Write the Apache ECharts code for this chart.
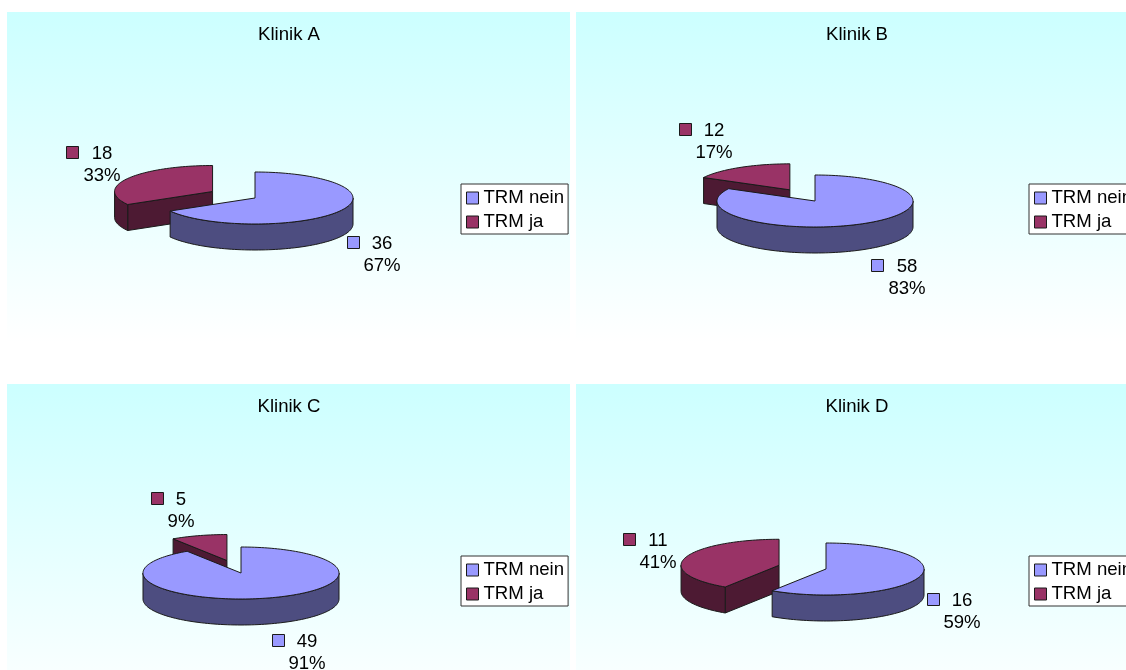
<!DOCTYPE html>
<html>
<head>
<meta charset="utf-8">
<style>html,body{margin:0;padding:0;background:#fff;overflow:hidden}#chart{width:1126px;height:670px}</style>
<script src="https://cdn.jsdelivr.net/npm/echarts@6/dist/echarts.min.js"></script>
</head>
<body>
<div id="chart"></div>
<script>
// Patient counts per clinic
const clinics = ['Klinik A', 'Klinik B', 'Klinik C', 'Klinik D'];
const categories = ['TRM nein', 'TRM ja'];
const neinValues = [36, 58, 49, 16];
const jaValues = [18, 12, 5, 11];

const FONT = '"Liberation Sans", Arial, sans-serif';
const FONT_SIZE = 18.6;
const RX = 98, RY = 26, DEPTH = 26, EXPLODE = 0.5;

// Panel frames, pie centres and data label anchors
const panels = [
  { box: [7, 12, 563, 372], pie: [255, 198], legend: [461, 184], title: [289, 35],
    nein: { mark: 347, mid: 382, y: 243 }, ja: { mark: 66, mid: 102, y: 153 } },
  { box: [576, 12, 550, 372], pie: [815, 201], legend: [1029, 184], title: [857, 35],
    nein: { mark: 871, mid: 907, y: 266 }, ja: { mark: 679, mid: 714, y: 130 } },
  { box: [7, 384, 563, 372], pie: [241, 573], legend: [461, 556], title: [289, 407],
    nein: { mark: 272, mid: 307, y: 641 }, ja: { mark: 151, mid: 181, y: 499 } },
  { box: [576, 384, 550, 372], pie: [826, 569], legend: [1029, 556], title: [857, 407],
    nein: { mark: 927, mid: 962, y: 600 }, ja: { mark: 623, mid: 658, y: 540 } }
];

const colors = {
  'TRM nein': { top: '#9999FF', side: '#4D4D80' },
  'TRM ja': { top: '#993366', side: '#4D1A33' }
};
const edge = { stroke: '#1a1a1a', lineWidth: 1 };

const rad = d => d * Math.PI / 180;
// Clockwise angle from twelve o'clock onto the flattened ellipse
const rim = (c, deg, drop) => [c[0] + RX * Math.sin(rad(deg)), c[1] - RY * Math.cos(rad(deg)) + (drop || 0)];

function arcPoints(c, from, to, drop) {
  const pts = [];
  const n = Math.max(2, Math.ceil(Math.abs(to - from) / 2));
  for (let i = 0; i <= n; i++) pts.push(rim(c, from + (to - from) * i / n, drop));
  return pts;
}

function poly(points, fill) {
  return { type: 'polygon', shape: { points }, style: Object.assign({ fill }, edge) };
}

function sliceShapes(c, from, to, palette) {
  const out = [];
  // Front-facing cut side: only a slice starting left of or behind the centre shows one
  if (from > 90) {
    const o = rim(c, from);
    out.push(poly([c, o, [o[0], o[1] + DEPTH], [c[0], c[1] + DEPTH]], palette.side));
  }
  // Outer wall over the front half of the ellipse
  const wa = Math.max(from, 90), wb = Math.min(to, 270);
  if (wb > wa) {
    out.push(poly(arcPoints(c, wa, wb).concat(arcPoints(c, wb, wa, DEPTH)), palette.side));
  }
  out.push(poly([c].concat(arcPoints(c, from, to)), palette.top));
  return out;
}

function labelShapes(anchor, value, share, color) {
  const text = (t, x, y) => ({
    type: 'text',
    style: { text: t, x, y, fill: '#000', font: FONT_SIZE + 'px ' + FONT, textAlign: 'center', textVerticalAlign: 'middle' }
  });
  return [
    { type: 'rect', shape: { x: anchor.mark + 0.5, y: anchor.y - 6.5, width: 12, height: 12 },
      style: Object.assign({ fill: color }, edge) },
    text(String(value), anchor.mid, anchor.y + 1),
    text(share + '%', anchor.mid, anchor.y + 23)
  ];
}

// Each slice is one custom series; the slice sits after the other slices of its clinic
function renderSlice(params, api) {
  const panel = panels[api.value(0)];
  const category = categories[api.value(1)];
  const value = api.value(2), total = api.value(3);
  const sweep = echarts.number.linearMap(value, [0, total], [0, 360]);
  const isNein = category === 'TRM nein';
  const from = isNein ? 0 : 360 - sweep;
  const to = isNein ? sweep : 360;
  let c = panel.pie;
  if (!isNein) {
    const mid = (from + to) / 2;
    c = [c[0] + EXPLODE * RX * Math.sin(rad(mid)), c[1] - EXPLODE * RY * Math.cos(rad(mid))];
  }
  const palette = colors[category];
  const anchor = isNein ? panel.nein : panel.ja;
  return {
    type: 'group',
    children: sliceShapes(c, from, to, palette)
      .concat(labelShapes(anchor, value, Math.round(value / total * 100), palette.top))
  };
}

const series = [];
clinics.forEach((name, i) => {
  const total = neinValues[i] + jaValues[i];
  // The detached slice is painted first so the larger slice overlaps it
  [[1, jaValues[i]], [0, neinValues[i]]].forEach(([cat, value]) => {
    series.push({
      type: 'custom',
      name: categories[cat],
      coordinateSystem: 'none',
      silent: true,
      animation: false,
      z: 2,
      itemStyle: { color: colors[categories[cat]].top },
      renderItem: renderSlice,
      data: [[i, cat, value, total]]
    });
  });
});

const option = {
  animation: false,
  backgroundColor: '#fff',
  title: clinics.map((text, i) => ({
    text,
    left: panels[i].title[0],
    top: panels[i].title[1],
    padding: 0,
    textAlign: 'center',
    textVerticalAlign: 'middle',
    textStyle: { fontFamily: FONT, fontSize: FONT_SIZE, fontWeight: 'normal', color: '#000' }
  })),
  legend: panels.map(p => ({
    data: categories,
    orient: 'vertical',
    left: p.legend[0],
    top: p.legend[1],
    icon: 'rect',
    itemWidth: 12,
    itemHeight: 12,
    itemGap: 2,
    padding: [3, 4, 1, 5],
    selectedMode: false,
    backgroundColor: '#fff',
    borderColor: '#333',
    borderWidth: 1,
    borderRadius: 0,
    itemStyle: { borderColor: '#1a1a1a', borderWidth: 1 },
    textStyle: { fontFamily: FONT, fontSize: FONT_SIZE, color: '#000', lineHeight: 22 }
  })),
  graphic: panels.map(p => ({
    type: 'rect',
    z: -10,
    silent: true,
    shape: { x: p.box[0], y: p.box[1], width: p.box[2], height: p.box[3] },
    style: {
      fill: new echarts.graphic.LinearGradient(0, 0, 0, 1, [
        { offset: 0, color: '#CCFFFF' },
        { offset: 0.89, color: '#FFFFFF' },
        { offset: 1, color: '#FFFFFF' }
      ])
    }
  })),
  series
};

const chart = echarts.init(document.getElementById('chart'), null, { renderer: 'canvas' });
chart.setOption(option);
</script>
</body>
</html>
